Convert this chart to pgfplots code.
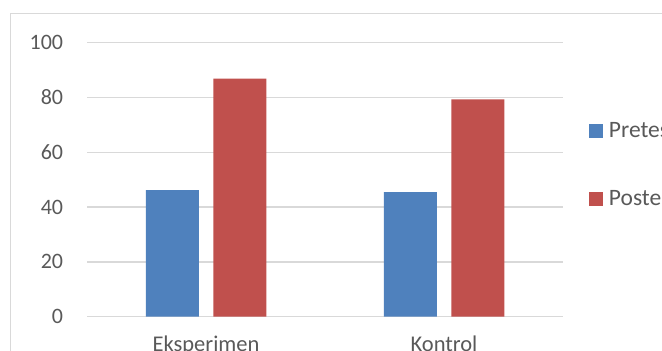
\documentclass[border=0pt]{standalone}
\usepackage{pgfplots}
\pgfplotsset{compat=1.18}
\usepackage{fontspec}
\setmainfont{Carlito}
\definecolor{barblue}{HTML}{4F81BD}
\definecolor{barred}{HTML}{C0504D}
\definecolor{txtgray}{HTML}{595959}
\definecolor{gridgray}{HTML}{D9D9D9}
\begin{document}
\begin{tikzpicture}
\useasboundingbox (0,0) rectangle (662bp,351bp);
\draw[gridgray, line width=1.2bp] (10.6bp,337.8bp) rectangle (700bp,-30bp);
\begin{axis}[
  at={(87bp,34.3bp)}, anchor=south west,
  scale only axis, width=476bp, height=274bp,
  ybar=14.5bp, bar width=53bp,
  xmin=-0.5, xmax=1.5, ymin=0, ymax=100,
  enlargelimits=false,
  xtick={0,1}, xticklabels={Eksperimen,Kontrol},
  ytick={0,20,40,60,80,100},
  ymajorgrids, major grid style={gridgray, line width=1.2bp},
  axis line style={draw=none},
  major tick length=0pt,
  /pgf/number format/assume math mode=true,
  tick label style={text=txtgray, inner sep=0pt},
  xticklabel style={font=\fontsize{22.5bp}{26bp}\selectfont, anchor=base, yshift=-34.5bp},
  yticklabel style={font=\fontsize{22bp}{26bp}\selectfont, anchor=east, xshift=-23.7bp},
  legend style={draw=none, fill=none, at={(1.0546,0.7033)}, anchor=north west,
    inner sep=0pt, outer sep=0pt, row sep=54bp, column sep=6bp,
    font=\fontsize{23.5bp}{27bp}\selectfont, text=txtgray,
    nodes={inner sep=0pt, text height=14bp, text depth=0pt}},
  legend cell align=left,
  legend image code/.code={\fill[#1] (0bp,-7bp) rectangle (14bp,7bp);},
]
\addplot[fill=barblue, draw=none] coordinates {(0,46.2) (1,45.5)};
\addplot[fill=barred, draw=none] coordinates {(0,86.9) (1,79.3)};
\legend{Pretest,Postest}
\end{axis}
\end{tikzpicture}
\end{document}
